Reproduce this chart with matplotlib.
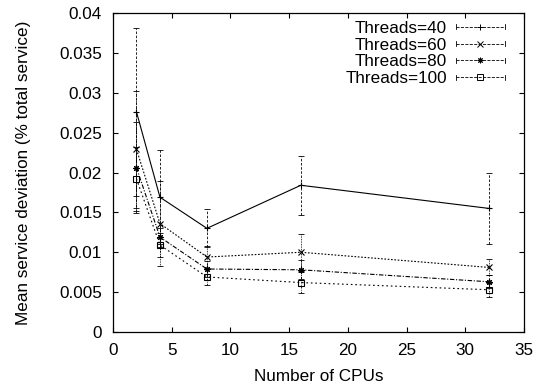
import matplotlib
matplotlib.use('Agg')
import matplotlib.pyplot as plt
from matplotlib.lines import Line2D
from matplotlib.legend_handler import HandlerBase

plt.rcParams['font.family'] = ['Liberation Sans', 'DejaVu Sans']

cpus = [2, 4, 8, 16, 32]
labels = ['Threads=40', 'Threads=60', 'Threads=80', 'Threads=100']

mean_40 = [0.0276, 0.0169, 0.0130, 0.0184, 0.0155]
mean_60 = [0.0229, 0.0136, 0.0094, 0.0100, 0.0081]
mean_80 = [0.0206, 0.0119, 0.0079, 0.0078, 0.0063]
mean_100 = [0.0192, 0.0109, 0.0069, 0.0062, 0.0053]

err_40 = [0.0105, 0.0059, 0.0024, 0.0037, 0.0045]
err_60 = [0.0073, 0.0053, 0.0014, 0.0023, 0.0010]
err_80 = [0.0057, 0.0012, 0.0010, 0.0012, 0.0008]
err_100 = [0.0040, 0.0015, 0.0010, 0.0013, 0.0009]

means = [mean_40, mean_60, mean_80, mean_100]
errs = [err_40, err_60, err_80, err_100]

markers = ['+', 'x', (8, 2, 0), 's']
line_styles = ['-', (0, (1.5, 1.5)), (0, (4, 1.5, 1, 1.5)), (0, (1.5, 2.5))]
bar_styles = [(0, (3, 2)), (0, (1, 1)), (0, (3, 1.5, 1, 1.5)), (0, (2, 1.5, 1, 1.5))]

FS = 12.3


class CapLineHandler(HandlerBase):
    """errorbar style legend sample: line with caps and marker in middle"""

    def create_artists(self, legend, orig, xdescent, ydescent, width,
                       height, fontsize, trans):
        y = height / 2 - ydescent
        x0, x1 = -xdescent, width - xdescent
        c = 1.8
        arts = [
            Line2D([x0, x1], [y, y], ls=orig.get_linestyle(), color='k',
                   lw=0.6),
            Line2D([x0, x0], [y - c, y + c], color='k', lw=0.6),
            Line2D([x1, x1], [y - c, y + c], color='k', lw=0.6),
            Line2D([(x0 + x1) / 2], [y], marker=orig.get_marker(),
                   ms=4, mfc='none', mec='k', mew=0.7, ls='none'),
        ]
        for a in arts:
            a.set_transform(trans)
        return arts


fig = plt.figure(figsize=(5.44, 3.89), dpi=100)
ax = fig.add_axes([0.2077, 0.1465, 0.7555, 0.8201])

proxies = []
for m, e, mk, ls, bs in zip(means, errs, markers, line_styles, bar_styles):
    ax.plot(cpus, m, color='k', lw=0.8, ls=ls)
    cont = ax.errorbar(cpus, m, yerr=e, fmt='none', ecolor='k',
                       elinewidth=0.6, capsize=2, capthick=0.6)
    cont.lines[2][0].set_linestyle(bs)
    ax.plot(cpus, m, ls='none', marker=mk, ms=4.5, mfc='none', mec='k',
            mew=0.8)
    proxies.append(Line2D([], [], ls=bs, marker=mk, color='k'))

ax.set_xlim(0, 35)
ax.set_ylim(0, 0.04)
ax.set_xticks(range(0, 36, 5))
ax.set_yticks([0, 0.005, 0.01, 0.015, 0.02, 0.025, 0.03, 0.035, 0.04])
ax.set_yticklabels(['0', '0.005', '0.01', '0.015', '0.02', '0.025',
                    '0.03', '0.035', '0.04'])
ax.tick_params(direction='in', top=True, right=True, length=3.5,
               width=0.8, labelsize=FS, pad=8)
for sp in ax.spines.values():
    sp.set_linewidth(0.9)

ax.set_xlabel('Number of CPUs', fontsize=FS, labelpad=8)
ax.set_ylabel('Mean service deviation (% total service)', fontsize=FS,
              labelpad=20)

leg = ax.legend(proxies, labels, loc='upper right',
                bbox_to_anchor=(0.954, 0.975), markerfirst=False,
                frameon=False, fontsize=FS, handlelength=2.9,
                handletextpad=0.5, labelspacing=0.1, borderpad=0,
                borderaxespad=0, handler_map={Line2D: CapLineHandler()})

fig.savefig('out.png', dpi=100)
